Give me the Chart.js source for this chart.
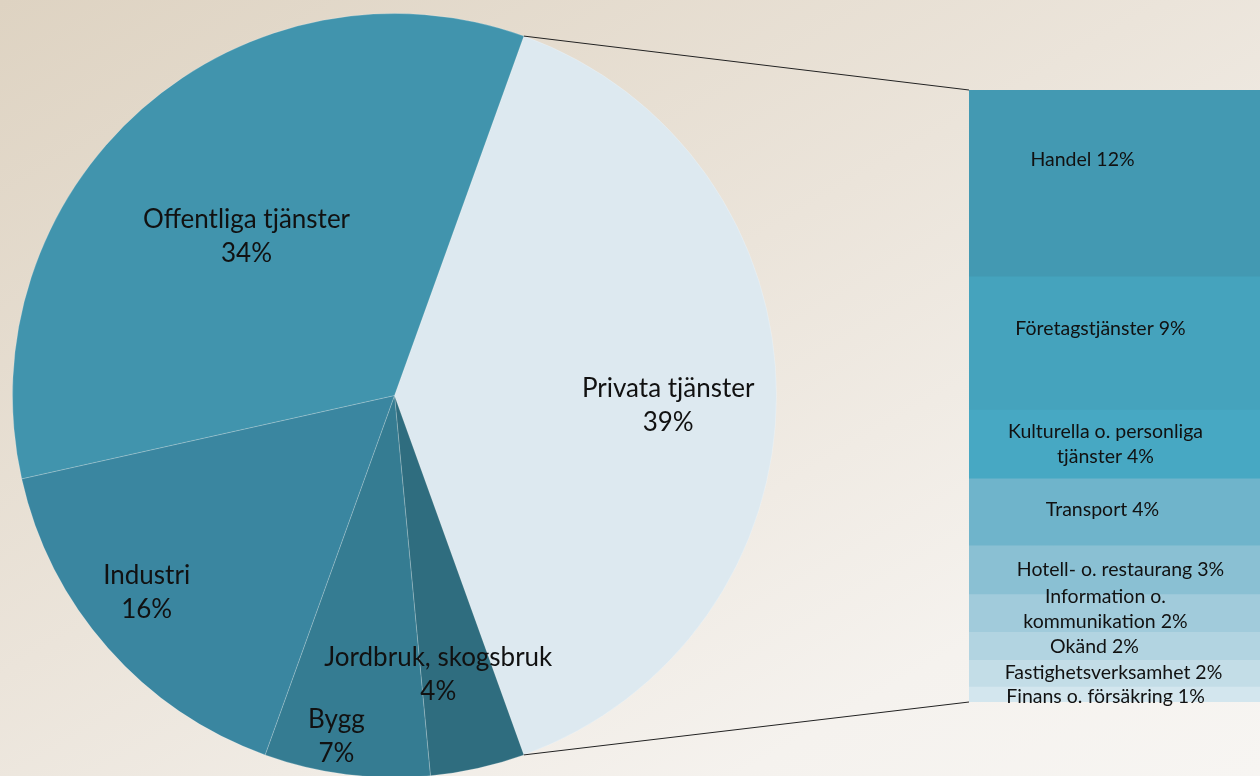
<!DOCTYPE html>
<html>
<head>
  <meta charset="UTF-8">
  <title>Sysselsättning per näringsgren</title>
  <script src="https://cdn.jsdelivr.net/npm/chart.js"></script>
  <style>
    html, body {
      margin: 0;
      padding: 0;
      width: 1260px;
      height: 776px;
      overflow: hidden;
      background: linear-gradient(150deg, #ded3c2 0%, #ebe4da 45%, #f5f2ee 80%, #f7f5f2 100%);
    }
    #pie { position: absolute; left: 0; top: 0; }
    #bar { position: absolute; left: 969px; top: 90px; }
  </style>
</head>
<body>
  <canvas id="pie" width="1260" height="790"></canvas>
  <canvas id="bar" width="291" height="624"></canvas>

  <script>
    // pie: huvudgrupper (i ordning medurs från Privata tjänster)
    const pieLabels = [['Privata tjänster', '39%'], ['Jordbruk, skogsbruk', '4%'], ['Bygg', '7%'], ['Industri', '16%'], ['Offentliga tjänster', '34%']];
    const pieValues = [39, 4, 7, 16, 34];
    const pieColors = ['#dde9f0', '#2f6d7f', '#357c92', '#3a86a0', '#4194ad'];

    // stapel: uppdelning av privata tjänster
    const barLabels = [['Handel 12%'], ['Företagstjänster 9%'], ['Kulturella o. personliga', 'tjänster 4%'], ['Transport 4%'],
      ['Hotell- o. restaurang 3%'], ['Information o.', 'kommunikation 2%'], ['Okänd 2%'], ['Fastighetsverksamhet 2%'], ['Finans o. försäkring 1%']];
    const barValues = [11.9, 8.5, 4.4, 4.3, 3.1, 2.4, 1.8, 1.7, 1.0];
    const barColors = ['#4399b2', '#45a3bd', '#47a8c3', '#6fb4cb', '#8ac0d3', '#a1cbdb', '#b2d4e1', '#c3dde7', '#d3e6ee'];

    // label placement tweaks
    const pieLabelFrac = [0.74, 0.73, 0.9, 0.83, 0.57];
    const pieLabelDx = [-9, -17, -15, -10, -4];
    const pieLabelDy = [10, 7, 0, -13, 4];
    const barLabelDx = [-32, -14, -9, -12, 6, -9, -20, -1, -9];
    const barLabelDy = [-23, -14, 0, -2, 0, -4, 1, 0, 3];

    const barTotal = barValues.reduce((a, b) => a + b, 0);

    function drawLines(ctx, lines, x, y, lh) {
      const y0 = y - (lines.length - 1) * lh / 2;
      lines.forEach((t, i) => ctx.fillText(t, x, y0 + i * lh));
    }

    const barText = {
      id: 'barText',
      afterDatasetsDraw(chart) {
        const ctx = chart.ctx;
        ctx.save();
        ctx.fillStyle = '#111';
        ctx.font = '19.5px Lato';
        ctx.textAlign = 'center';
        ctx.textBaseline = 'middle';
        chart.data.datasets.forEach((ds, i) => {
          const el = chart.getDatasetMeta(i).data[0];
          const cy = (el.y + el.base) / 2;
          drawLines(ctx, barLabels[i], el.x + barLabelDx[i], cy + barLabelDy[i], 25);
        });
        ctx.restore();
      }
    };

    const barChart = new Chart(document.getElementById('bar'), {
      type: 'bar',
      data: {
        labels: [''],
        datasets: barValues.map((v, i) => ({
          label: barLabels[i].join(' '),
          data: [v],
          backgroundColor: barColors[i],
          borderWidth: 0,
          barPercentage: 1,
          categoryPercentage: 1
        }))
      },
      options: {
        responsive: false,
        animation: false,
        devicePixelRatio: 1,
        layout: { padding: { top: 0, left: 0, right: 0, bottom: 12 } },
        plugins: { legend: { display: false }, tooltip: { enabled: false } },
        scales: {
          x: { stacked: true, display: false },
          y: { stacked: true, display: false, reverse: true, min: 0, max: barTotal }
        }
      },
      plugins: [barText]
    });

    const pieExtras = {
      id: 'pieExtras',
      afterDatasetsDraw(chart) {
        const ctx = chart.ctx;
        const arcs = chart.getDatasetMeta(0).data;
        ctx.save();
        // connector lines from privata tjänster to the bar
        const p = arcs[0];
        const ba = barChart.chartArea;
        const bx = barChart.canvas.offsetLeft + ba.left;
        const btop = barChart.canvas.offsetTop + ba.top;
        const bbot = barChart.canvas.offsetTop + ba.bottom;
        ctx.strokeStyle = '#222';
        ctx.lineWidth = 1;
        ctx.beginPath();
        ctx.moveTo(p.x + Math.cos(p.startAngle) * p.outerRadius, p.y + Math.sin(p.startAngle) * p.outerRadius);
        ctx.lineTo(bx, btop);
        ctx.moveTo(p.x + Math.cos(p.endAngle) * p.outerRadius, p.y + Math.sin(p.endAngle) * p.outerRadius);
        ctx.lineTo(bx, bbot);
        ctx.stroke();

        ctx.fillStyle = '#111';
        ctx.font = '26px Lato';
        ctx.textAlign = 'center';
        ctx.textBaseline = 'middle';
        arcs.forEach((a, i) => {
          const mid = (a.startAngle + a.endAngle) / 2;
          const r = a.outerRadius * pieLabelFrac[i];
          drawLines(ctx, pieLabels[i], a.x + Math.cos(mid) * r + pieLabelDx[i], a.y + Math.sin(mid) * r + pieLabelDy[i], 34);
        });
        ctx.restore();
      }
    };

    new Chart(document.getElementById('pie'), {
      type: 'pie',
      data: {
        labels: pieLabels.map(l => l[0]),
        datasets: [{
          data: pieValues,
          backgroundColor: pieColors,
          borderColor: 'rgba(255,255,255,0.2)',
          borderWidth: 1
        }]
      },
      options: {
        responsive: false,
        animation: false,
        devicePixelRatio: 1,
        rotation: 19.8,
        layout: { padding: { left: 12, top: 13, right: 483, bottom: 12 } },
        plugins: { legend: { display: false }, tooltip: { enabled: false } }
      },
      plugins: [pieExtras]
    });
  </script>
</body>
</html>
